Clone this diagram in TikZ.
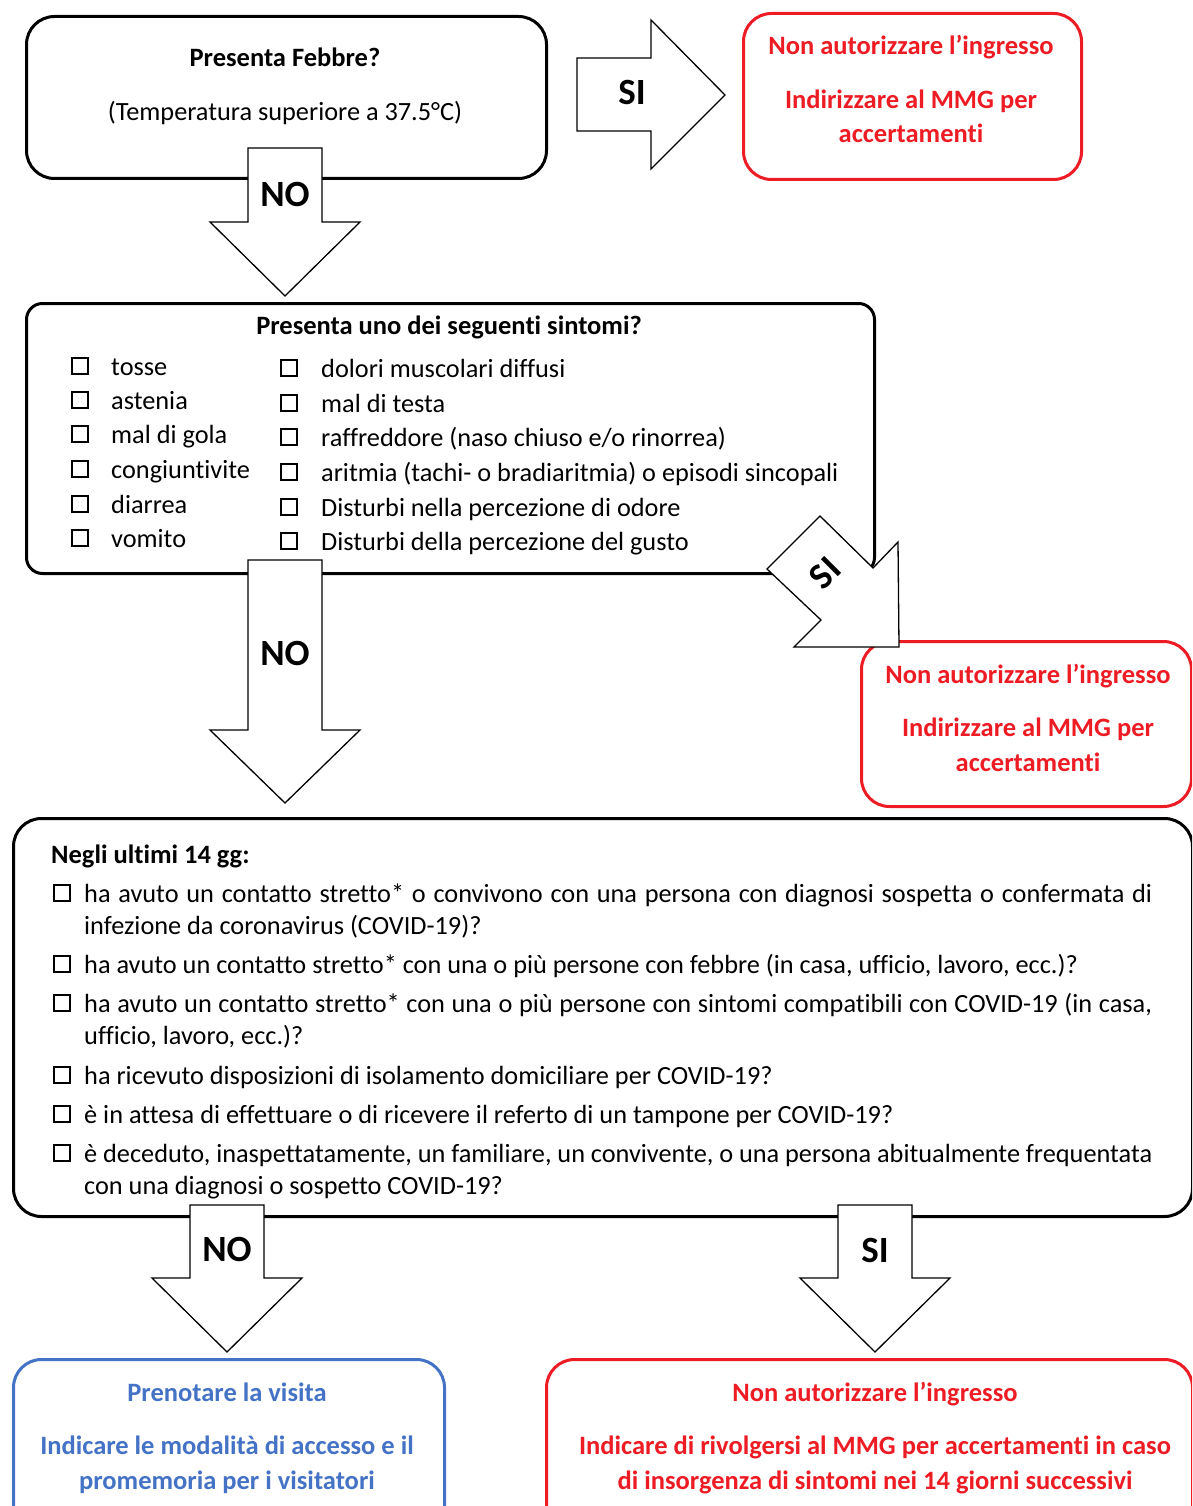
\documentclass[tikz,border=0pt]{standalone}
\usepackage{fontspec}
\setmainfont{Carlito}[Ligatures={NoCommon}]
\definecolor{myred}{RGB}{237,28,36}
\definecolor{myblue}{RGB}{68,114,196}
\newcommand\bodyfont{\fontsize{26.3}{32}\selectfont}
\newcommand\boldfont{\fontsize{26.5}{32}\selectfont\bfseries}
\newcommand\labfont{\fontsize{37}{42}\selectfont\bfseries}
\newcommand\dnarrow[5]{% name, cx, top, head y, tip y
  \draw[blockarrow] (#2-37,#3) -- (#2+37,#3) -- (#2+37,#4) -- (#2+75,#4) -- (#2,#5) -- (#2-75,#4) -- (#2-37,#4) -- cycle;
  \coordinate (#1) at (#2,#5);}
\begin{document}
\begin{tikzpicture}[x=1pt,y=-1pt,
  box/.style={draw=black, line width=3pt, rounded corners=28pt, inner sep=0pt, anchor=north west},
  redbox/.style={box, draw=myred},
  bluebox/.style={box, draw=myblue},
  blockarrow/.style={draw=black, line width=1.3pt, fill=white, line join=miter},
  txt/.style={inner sep=0pt, font=\bodyfont, yshift=-8pt},
  ctxt/.style={txt, anchor=base},
  ltxt/.style={txt, anchor=base west},
  rtxt/.style={ctxt, text=myred, font=\boldfont},
  btxt/.style={ctxt, text=myblue, font=\boldfont},
  lab/.style={inner sep=0pt, font=\labfont, anchor=center},
  chk/.style={draw=black, line width=2pt, minimum size=16.5pt, inner sep=0pt}
]
\useasboundingbox (0,0) rectangle (1192,1506);
\clip (0,0) rectangle (1192,1506);

% boxes
\node[box, minimum width=520pt, minimum height=162pt] (b1) at (25,15) {};
\node[redbox, minimum width=338pt, minimum height=166pt] (r1) at (742,12) {};
\node[box, rounded corners=16pt, minimum width=848pt, minimum height=270pt] (b2) at (25,302) {};
\node[redbox, minimum width=330pt, minimum height=165pt] (r2) at (860,640) {};
\node[box, minimum width=1179pt, minimum height=398pt] (b3) at (12,817) {};
\node[bluebox, minimum width=431pt, minimum height=180pt] (bl) at (12,1358) {};
\node[redbox, minimum width=646pt, minimum height=180pt] (r3) at (545,1358) {};

% box 1
\node[ctxt, font=\boldfont] (t1) at (285,59) {Presenta Febbre?};
\node[ctxt] (t2) at (285,113) {(Temperatura superiore a 37.5°C)};

% red box 1
\node[rtxt] (r1a) at (911,47) {Non autorizzare l’ingresso};
\node[rtxt] (r1b) at (911,101) {Indirizzare al MMG per};
\node[rtxt] (r1c) at (911,135) {accertamenti};

% arrow SI right
\draw[blockarrow] (577,58) -- (651,58) -- (651,20) -- (725,95) -- (651,169) -- (651,131) -- (577,131) -- cycle;
\node[lab] (si1) at (632,92) {SI};

% arrow NO 1
\dnarrow{a1}{285}{148}{222}{296}
\node[lab] (no1) at (285,194) {NO};

% box 2
\node[ctxt, font=\boldfont] (t3) at (449,326) {Presenta uno dei seguenti sintomi?};
\foreach \y/\s [count=\i] in {367/tosse,401/astenia,435/{mal di gola},470/congiuntivite,505/diarrea,539/vomito}{
  \node[chk] (cl\i) at (80,\y-1) {};
  \node[ltxt] (sl\i) at (111,\y) {\s};
}
\foreach \y/\s [count=\i] in {369/{dolori muscolari diffusi},404/{mal di testa},438/{raffreddore (naso chiuso e{/}o rinorrea)},473/{aritmia (tachi- o bradiaritmia) o episodi sincopali},508/{Disturbi nella percezione di odore},542/{Disturbi della percezione del gusto}}{
  \node[chk] (cr\i) at (289,\y-1) {};
  \node[ltxt] (sr\i) at (321,\y) {\s};
}

% arrow NO 2
\dnarrow{a2}{285}{560}{730}{803}
\node[lab] (no2) at (285,653) {NO};

% diagonal SI arrow
\draw[blockarrow] (767,569) -- (820,516) -- (873,568) -- (898,542) -- (899,647) -- (794,647) -- (821,620) -- cycle;
\node[lab, rotate=45] (si2) at (825,573) {SI};

% red box 2
\node[rtxt] (r2a) at (1028,675) {Non autorizzare l’ingresso};
\node[rtxt] (r2b) at (1028,728) {Indirizzare al MMG per};
\node[rtxt] (r2c) at (1028,763) {accertamenti};

% box 3
\node[ltxt, font=\boldfont] (t4) at (51,855) {Negli ultimi 14 gg:};
\foreach \y in {894,965,1004,1076,1115,1154}{
  \node[chk] at (62,\y-1) {};
}
\node[ltxt] (q1a) at (84,894) {\makebox[1068pt][s]{ha avuto un contatto stretto* o convivono con una persona con diagnosi sospetta o confermata di}};
\node[ltxt] (q1b) at (84,926) {infezione da coronavirus (COVID-19)?};
\node[ltxt] (q2) at (84,965) {ha avuto un contatto stretto* con una o più persone con febbre (in casa, ufficio, lavoro, ecc.)?};
\node[ltxt] (q3a) at (84,1004) {\makebox[1068pt][s]{ha avuto un contatto stretto* con una o più persone con sintomi compatibili con COVID-19 (in casa,}};
\node[ltxt] (q3b) at (84,1036) {ufficio, lavoro, ecc.)?};
\node[ltxt] (q4) at (84,1076) {ha ricevuto disposizioni di isolamento domiciliare per COVID-19?};
\node[ltxt] (q5) at (84,1115) {è in attesa di effettuare o di ricevere il referto di un tampone per COVID-19?};
\node[ltxt] (q6a) at (84,1154) {\makebox[1068pt][s]{è deceduto, inaspettatamente, un familiare, un convivente, o una persona abitualmente frequentata}};
\node[ltxt] (q6b) at (84,1186) {con una diagnosi o sospetto COVID-19?};

% arrows 3
\dnarrow{a3}{227}{1205}{1278}{1352}
\node[lab] (no3) at (227,1249) {NO};
\dnarrow{a4}{875}{1205}{1278}{1352}
\node[lab] (si3) at (875,1250) {SI};

% blue box
\node[btxt] (bl1) at (227,1393) {Prenotare la visita};
\node[btxt] (bl2) at (227,1446) {Indicare le modalità di accesso e il};
\node[btxt] (bl3) at (227,1481) {promemoria per i visitatori};

% red box 3
\node[rtxt] (r3a) at (875,1393) {Non autorizzare l’ingresso};
\node[rtxt] (r3b) at (875,1446) {Indicare di rivolgersi al MMG per accertamenti in caso};
\node[rtxt] (r3c) at (875,1481) {di insorgenza di sintomi nei 14 giorni successivi};
\end{tikzpicture}
\end{document}
